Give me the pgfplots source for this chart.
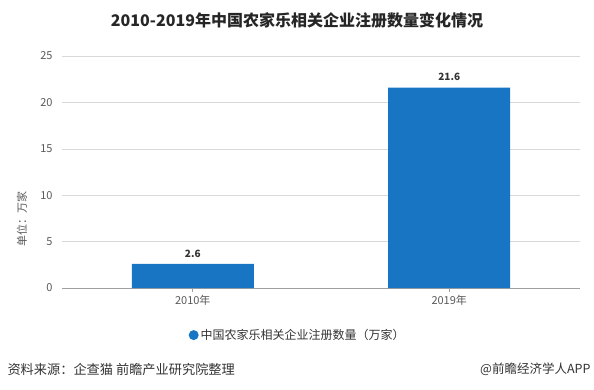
\documentclass[border=0pt]{standalone}
\usepackage{pgfplots}
\pgfplotsset{compat=1.18}
\usepackage{fontspec}
\setmainfont{Noto Sans CJK SC}
\definecolor{barblue}{RGB}{23,117,196}
\definecolor{txtgray}{RGB}{89,89,89}
\begin{document}
\begin{tikzpicture}[x=1pt,y=1pt]
\path[use as bounding box] (0,0) rectangle (594,389);
\node[font=\bfseries\fontsize{16}{16}\selectfont, text=black!85] at (297,369) {2010-2019年中国农家乐相关企业注册数量变化情况};
\begin{axis}[
  at={(62pt,101pt)}, anchor=south west, scale only axis,
  width=518pt, height=232pt,
  xmin=-0.51, xmax=1.51, ymin=0, ymax=25,
  ytick={0,5,...,25}, xtick={0,1}, xticklabels={2010年,2019年},
  ybar, bar width=122pt,
  axis x line*=bottom, axis y line*=left,
  y axis line style={draw=none},
  x axis line style={draw=gray!75, line width=0.8pt},
  ytick style={draw=none},
  xtick style={draw=gray!75, line width=0.6pt},
  major tick length=4pt, tick align=outside,
  ymajorgrids, grid style={draw=gray!30, line width=0.6pt},
  /pgf/number format/assume math mode=true,
  tick label style={font=\fontsize{11}{11}\selectfont, text=txtgray},
  yticklabel style={xshift=-2pt},
  nodes near coords,
  nodes near coords style={font=\bfseries\fontsize{10}{10}\selectfont, text=black!80, anchor=south, yshift=3pt},
  legend style={draw=none, fill=none, at={(0.455,-0.203)}, anchor=center, font=\fontsize{12}{12}\selectfont, text=black!80},
  legend image code/.code={\fill[barblue] (-0.9em,0) circle (5pt);},
]
\addplot[fill=barblue, draw=none] coordinates {(0,2.6) (1,21.6)};
\addlegendentry{中国农家乐相关企业注册数量（万家）}
\end{axis}
\node[rotate=90, font=\fontsize{11}{11}\selectfont, text=txtgray] at (22,170) {单位：万家};
\node[anchor=west, font=\fontsize{13.2}{13}\selectfont, text=black!80] at (4,20) {资料来源：企查猫 前瞻产业研究院整理};
\node[anchor=east, font=\fontsize{12.5}{12}\selectfont, text=black!80] at (594,20) {@前瞻经济学人APP};
\end{tikzpicture}
\end{document}
